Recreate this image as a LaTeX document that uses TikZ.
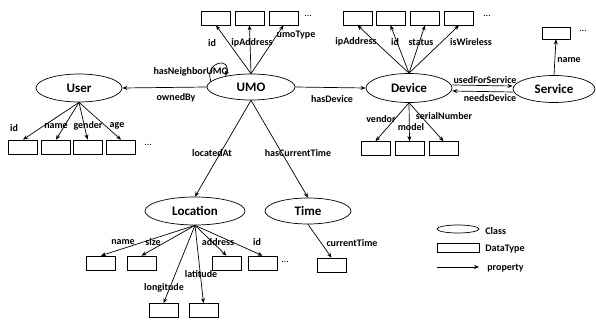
\documentclass[tikz,border=0pt]{standalone}
\usepackage{fontspec}
\setmainfont{Carlito}
\usetikzlibrary{arrows.meta,shapes.geometric}
\begin{document}
\begin{tikzpicture}[x=1pt,y=-1pt,
  cls/.style={draw,ellipse,inner sep=0,font=\fontsize{13}{15}\selectfont\bfseries},
  dbox/.style={draw,rectangle,minimum width=29pt,minimum height=14pt,inner sep=0},
  lbl/.style={inner sep=0,font=\fontsize{10}{12}\selectfont\bfseries},
  dots/.style={inner sep=0,font=\fontsize{10}{12}\selectfont},
  prop/.style={-{Stealth[length=5pt,width=4pt]},line width=0.7pt},
  every path/.style={line width=0.7pt}]
\useasboundingbox (0,0) rectangle (596,323);
% classes
\node[cls,minimum width=88pt,minimum height=26pt] (umo) at (251,87) {UMO};
\node[cls,minimum width=86pt,minimum height=28pt] (user) at (79,88) {User};
\node[cls,minimum width=86pt,minimum height=29pt] (dev) at (409,88) {Device};
\node[cls,minimum width=82pt,minimum height=27pt] (svc) at (554,89) {Service};
\node[cls,minimum width=100pt,minimum height=28pt] (loc) at (195,211) {Location};
\node[cls,minimum width=86pt,minimum height=26pt] (time) at (308,211) {Time};
% UMO datatypes
\node[dbox] (u1) at (216,18) {};
\node[dbox] (u2) at (249.5,18) {};
\node[dbox] (u3) at (283.5,18) {};
\node[dots] (ud) at (308,16) {\dots};
\draw[prop] (umo.north) -- (u1.south);
\draw[prop] (umo.north) -- (u2.south);
\draw[prop] (umo.north) -- (u3.south);
\node[lbl] (lu1) at (212,43) {id};
\node[lbl] (lu2) at (252,43) {ipAddress};
\node[lbl] (lu3) at (296,35) {umoType};
% self loop
\draw[prop] (umo.172) .. controls +(-7,-20) and +(7,-20) .. (umo.157);
\node[lbl] (lnb) at (191,72) {hasNeighborUMO};
% User
\draw[prop] (umo.west) -- (user.east);
\node[lbl] (lown) at (176,98) {ownedBy};
\node[dbox] (us1) at (23,147) {};
\node[dbox] (us2) at (56,147) {};
\node[dbox] (us3) at (87.5,147) {};
\node[dbox] (us4) at (121,147) {};
\node[dots] (usd) at (148,145) {\dots};
\draw[prop] (user.south) -- (us1.north);
\draw[prop] (user.south) -- (us2.north);
\draw[prop] (user.south) -- (us3.north);
\draw[prop] (user.south) -- (us4.north);
\node[lbl] (lus1) at (14,128) {id};
\node[lbl] (lus2) at (56,126) {name};
\node[lbl] (lus3) at (88,126) {gender};
\node[lbl] (lus4) at (117,126) {age};
% Device
\draw[prop] (umo.east) -- (dev.west);
\node[lbl] (lhd) at (332,99) {hasDevice};
\node[dbox] (d1) at (357.5,18) {};
\node[dbox] (d2) at (390.5,18) {};
\node[dbox] (d3) at (425,18) {};
\node[dbox] (d4) at (459,18) {};
\node[dots] (dd) at (487,16) {\dots};
\draw[prop] (dev.north) -- (d1.south);
\draw[prop] (dev.north) -- (d2.south);
\draw[prop] (dev.north) -- (d3.south);
\draw[prop] (dev.north) -- (d4.south);
\node[lbl] (ld1) at (356,42) {ipAddress};
\node[lbl] (ld2) at (395,42) {id};
\node[lbl] (ld3) at (421,42) {status};
\node[lbl] (ld4) at (471,42) {isWireless};
\node[dbox] (db1) at (375.5,148.5) {};
\node[dbox] (db2) at (409.5,148.5) {};
\node[dbox] (db3) at (443.5,148.5) {};
\draw[prop] (dev.south) -- (db1.north);
\draw[prop] (dev.south) -- (db2.north);
\draw[prop] (dev.south) -- (db3.north);
\node[lbl] (ldb1) at (381,119) {vendor};
\node[lbl] (ldb2) at (411,127) {model};
\node[lbl] (ldb3) at (444,116) {serialNumber};
% Service
\coordinate (dvr1) at ([yshift=3pt]dev.east);
\coordinate (dvr2) at ([yshift=-3pt]dev.east);
\coordinate (svl1) at ([yshift=3pt]svc.west);
\coordinate (svl2) at ([yshift=-3pt]svc.west);
\draw[prop] (dvr1) -- (svl1);
\draw[prop] (svl2) -- (dvr2);
\node[lbl] (luf) at (485,80) {usedForService};
\node[lbl] (lnd) at (490,98) {needsDevice};
\node[dbox,minimum height=12pt,minimum width=28pt] (s1) at (556,33) {};
\node[dots] (sd) at (583,31) {\dots};
\draw[prop] (svc.north) -- (s1.south);
\node[lbl] (ls1) at (569,60) {name};
% Location and Time
\draw[prop] (umo.south) -- (loc.north);
\draw[prop] (umo.south) -- (time.north);
\node[lbl] (lla) at (212,153) {locatedAt};
\node[lbl] (lhct) at (298,153) {hasCurrentTime};
\node[dbox] (l1) at (101,263) {};
\node[dbox] (l2) at (141.5,263) {};
\node[dbox] (l3) at (226.5,263) {};
\node[dbox] (l4) at (262.5,263) {};
\node[dots] (ldd) at (285,262) {\dots};
\node[dbox] (l5) at (163.5,310.5) {};
\node[dbox] (l6) at (203.5,310.5) {};
\draw[prop] (loc.south) -- (l1.north);
\draw[prop] (loc.south) -- (l2.north);
\draw[prop] (loc.south) -- (l3.north);
\draw[prop] (loc.south) -- (l4.north);
\draw[prop] (loc.south) -- (l5.north);
\draw[prop] (loc.south) -- (l6.north);
\node[lbl] (ll1) at (123,242) {name};
\node[lbl] (ll2) at (153,242) {size};
\node[lbl] (ll3) at (218,242) {address};
\node[lbl] (ll4) at (257,242) {id};
\node[lbl] (ll5) at (164,288) {longitude};
\node[lbl] (ll6) at (201,274) {latitude};
\node[dbox] (t1) at (331.5,265) {};
\draw[prop] (time.south) -- (t1.north);
\node[lbl] (lt1) at (352,243) {currentTime};
% legend
\node[draw,ellipse,minimum width=42pt,minimum height=8pt,inner sep=0] (kc) at (458,229) {};
\node[draw,rectangle,minimum width=42pt,minimum height=9pt,inner sep=0] (kd) at (458,247.5) {};
\coordinate (kp1) at (437,267);
\coordinate (kp2) at (479,267);
\draw[prop] (kp1) -- (kp2);
\node[lbl,anchor=west] (kct) at (485,231) {Class};
\node[lbl,anchor=west] (kdt) at (485,249) {DataType};
\node[lbl,anchor=west] (kpt) at (487,268) {property};
\end{tikzpicture}
\end{document}
